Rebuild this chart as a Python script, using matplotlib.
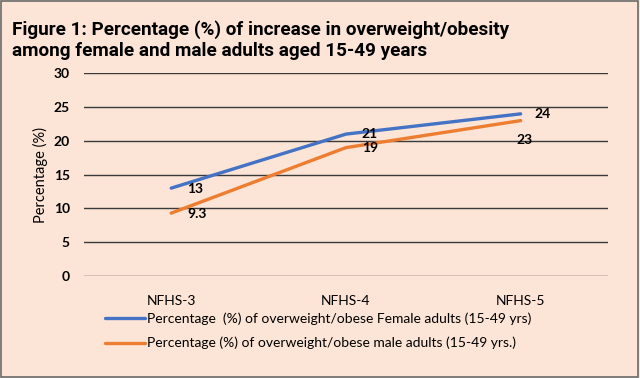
import matplotlib
matplotlib.use("Agg")
import matplotlib.pyplot as plt
from matplotlib.patches import Rectangle

categories = ["NFHS-3", "NFHS-4", "NFHS-5"]
female = [13, 21, 24]
male = [9.3, 19, 23]
female_labels = ["13", "21", "24"]
male_labels = ["9.3", "19", "23"]
yticks = [0, 5, 10, 15, 20, 25, 30]

bg = "#FCE4D6"
blue = "#4472C4"
orange = "#ED7D31"
axfont = "Lato"

fig = plt.figure(figsize=(6.4, 3.78), dpi=100, facecolor=bg)
fig.patches.append(Rectangle((0.002, 0.003), 0.995, 0.994, transform=fig.transFigure,
                             fill=False, edgecolor="#6a6a6a", linewidth=1.2))
ax = fig.add_axes([0.131, 0.270, 0.819, 0.536])
ax.set_facecolor(bg)

x = list(range(len(categories)))
ax.plot(x, female, color=blue, lw=2.4, solid_capstyle="round",
        label="Percentage  (%) of overweight/obese Female adults (15-49 yrs)")
ax.plot(x, male, color=orange, lw=2.4, solid_capstyle="round",
        label="Percentage (%) of overweight/obese male adults (15-49 yrs.)")

offsets_f = [(16, -1), (16, 0), (14, 0)]
offsets_m = [(16, -1), (16, 0), (-4, -19)]
for xi, v, t, off in zip(x, female, female_labels, offsets_f):
    ax.annotate(t, (xi, v), xytext=off, textcoords="offset pixels", ha="left", va="center",
                fontsize=10, fontweight="bold", family=axfont, color="black")
for xi, v, t, off in zip(x, male, male_labels, offsets_m):
    ax.annotate(t, (xi, v), xytext=off, textcoords="offset pixels", ha="left", va="center",
                fontsize=10, fontweight="bold", family=axfont, color="black")

ax.set_xlim(-0.5, 2.5)
ax.set_ylim(0, 30)
ax.set_yticks(yticks)
ax.set_yticklabels([str(t) for t in yticks], fontsize=10, fontweight="bold", family=axfont)
ax.set_xticks(x)
ax.set_xticklabels(categories, fontsize=10, family=axfont)
ax.tick_params(axis="both", length=0, pad=10)
ax.tick_params(axis="x", pad=14)
ax.grid(axis="y", color="#3a3a3a", lw=1.0)
ax.set_axisbelow(True)
for s in ax.spines.values():
    s.set_visible(False)
ax.set_ylabel("Percentage (%)", fontsize=10.5, family=axfont, labelpad=4)

fig.text(0.019, 0.921, "Figure 1: Percentage (%) of increase in overweight/obesity",
         fontsize=13.6, fontweight="bold", family="Roboto", va="center")
fig.text(0.019, 0.866, "among female and male adults aged 15-49 years",
         fontsize=13.6, fontweight="bold", family="Roboto", va="center")

fig.legend(loc="upper left", bbox_to_anchor=(0.155, 0.188), frameon=False,
           prop={"family": axfont, "size": 10}, handlelength=2.9, handletextpad=0.15,
           labelspacing=0.85, borderaxespad=0)

fig.savefig("out.png", dpi=100, facecolor=bg)
